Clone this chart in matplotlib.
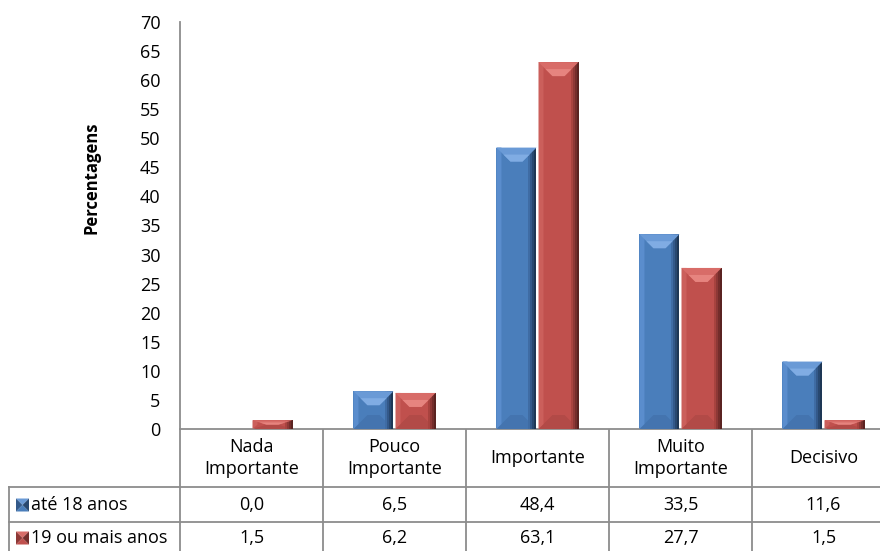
import matplotlib.pyplot as plt
import matplotlib.transforms as mtransforms
from matplotlib.patches import Polygon
import numpy as np

plt.rcParams['font.family'] = ['Open Sans', 'DejaVu Sans']

# dados
categorias = ['Nada\nImportante', 'Pouco\nImportante', 'Importante', 'Muito\nImportante', 'Decisivo']
series = ['até 18 anos', '19 ou mais anos']
ate_18 = [0.0, 6.5, 48.4, 33.5, 11.6]
mais_19 = [1.5, 6.2, 63.1, 27.7, 1.5]
yticks = list(range(0, 75, 5))

# cores (face, topo, realce, esquerda, faixas da direita, base)
AZUL = dict(face='#4A7EBB', top='#6A9AD6', hi='#80ACE3', left='#5A8DCD',
            right=['#3F6CA4', '#33598A', '#284870', '#1E3755'], bottom='#4474AF')
VERM = dict(face='#C0504D', top='#D86C68', hi='#E6847F', left='#CB5F5B',
            right=['#A8433F', '#8E3836', '#742D2B', '#5A2321'], bottom='#B24A47')

W, H = 880, 551
fig = plt.figure(figsize=(W / 100, H / 100), dpi=100)
ax = fig.add_axes([180 / W, (H - 429) / H, 715 / W, 407 / H])
ax.set_xlim(-0.5, len(categorias) - 0.5)
ax.set_ylim(0, 70)

# eixo auxiliar em pixeis para a tabela de dados
pix = fig.add_axes([0, 0, 1, 1])
pix.set_xlim(0, W)
pix.set_ylim(H, 0)
pix.axis('off')
pix.patch.set_visible(False)
trans = mtransforms.blended_transform_factory(ax.transData, pix.transData)

x = np.arange(len(categorias))
largura = 0.28
desloc = 0.147


def bisel(rect, c):
    """desenha o efeito de bisel por cima de uma barra"""
    (x0, y0), (x1, y1) = ax.transData.transform(
        [(rect.get_x(), rect.get_y()),
         (rect.get_x() + rect.get_width(), rect.get_y() + rect.get_height())])
    h = y1 - y0
    if h <= 0:
        return
    inv = ax.transData.inverted()

    def poly(pts, cor):
        ax.add_patch(Polygon(inv.transform(pts), closed=True, facecolor=cor,
                             edgecolor='none', zorder=3))

    w = x1 - x0
    d = min(14, h / 2)
    ins = min(14, w / 2 - 3)
    # base
    poly([(x0, y0), (x1, y0), (x1 - ins, y0 + d), (x0 + ins, y0 + d)], c['bottom'])
    # faixa clara a esquerda
    poly([(x0, y0), (x0 + 5, y0 + min(5, d)), (x0 + 5, y1), (x0, y1)], c['left'])
    # faixas escuras a direita
    n = len(c['right'])
    for k, cor in enumerate(c['right']):
        xa = x1 - 8 + k * 8 / n
        poly([(xa, y0), (x1, y0), (x1, y1), (xa, y1)], cor)
    # topo
    poly([(x0, y1), (x1, y1), (x1 - ins, y1 - d), (x0 + ins, y1 - d)], c['top'])
    poly([(x0 + ins * 0.5, y1 - d * 0.5), (x1 - ins * 0.5, y1 - d * 0.5),
          (x1 - ins, y1 - d), (x0 + ins, y1 - d)], c['hi'])


for vals, off, c in [(ate_18, -desloc, AZUL), (mais_19, desloc, VERM)]:
    barras = ax.bar(x + off, vals, largura, color=c['face'], zorder=2)
    for r in barras:
        bisel(r, c)

ax.set_yticks(yticks)
ax.set_xticks([])
ax.tick_params(axis='y', length=0, pad=14, labelsize=13, colors='black')
for s in ['top', 'right']:
    ax.spines[s].set_visible(False)
for s in ['left', 'bottom']:
    ax.spines[s].set_color('#8C8C8C')
    ax.spines[s].set_linewidth(1.3)
ax.spines['bottom'].set_clip_on(False)

fig.text(91 / W, 1 - 178 / H, 'Percentagens', rotation=90, fontsize=12,
         fontweight='bold', ha='center', va='center')

# tabela de dados
cor_linha = '#8C8C8C'
for xb in np.arange(len(categorias)) - 0.5:
    pix.plot([xb, xb], [430, H], color=cor_linha, lw=1.3, transform=trans, clip_on=False)
for yl in [487, 522]:
    pix.plot([9, W], [yl, yl], color=cor_linha, lw=1.3, clip_on=False)
pix.plot([9, 9], [487, H], color=cor_linha, lw=1.3, clip_on=False)

for i, cat in enumerate(categorias):
    pix.text(i, 458, cat, transform=trans, ha='center', va='center',
             fontsize=13, linespacing=1.3)

linhas_y = [505, 538]
for vals, y, nome, c in [(ate_18, linhas_y[0], series[0], AZUL),
                         (mais_19, linhas_y[1], series[1], VERM)]:
    for i, v in enumerate(vals):
        pix.text(i, y, f'{v:.1f}'.replace('.', ','), transform=trans,
                 ha='center', va='center', fontsize=13)
    pix.text(31, y, nome, ha='left', va='center', fontsize=13)
    # chave da legenda
    kx0, kx1, ky0, ky1 = 16, 29, y - 6.5, y + 6.5
    cx, cy = (kx0 + kx1) / 2, (ky0 + ky1) / 2
    for pts, cor in [([(kx0, ky0), (kx1, ky0), (cx, cy)], c['top']),
                     ([(kx0, ky1), (kx1, ky1), (cx, cy)], c['face']),
                     ([(kx0, ky0), (kx0, ky1), (cx, cy)], c['right'][1]),
                     ([(kx1, ky0), (kx1, ky1), (cx, cy)], c['right'][2])]:
        pix.add_patch(Polygon(pts, closed=True, facecolor=cor, edgecolor='none'))

fig.savefig('out.png', dpi=100)
